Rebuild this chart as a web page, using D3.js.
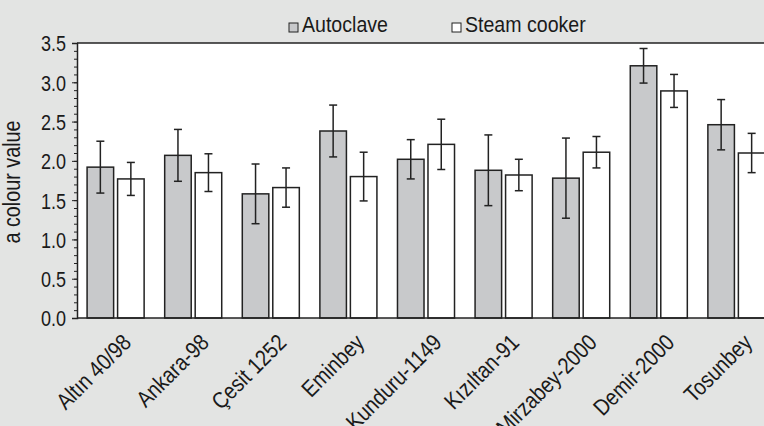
<!DOCTYPE html>
<html>
<head>
<meta charset="utf-8">
<script src="https://cdn.jsdelivr.net/npm/d3@7"></script>
<style>
  body { margin: 0; background: #e3e4e3; }
  svg text { font-family: "Liberation Sans Narrow", "Arial Narrow", "Liberation Sans", Arial, sans-serif; fill: #1a1a1a; }
</style>
</head>
<body>
<div id="chart"></div>
<script>
// chart values
const categories = ["Altın 40/98", "Ankara-98", "Çesit 1252", "Eminbey", "Kunduru-1149",
                    "Kızıltan-91", "Mirzabey-2000", "Demir-2000", "Tosunbey"];
const seriesNames = ["Autoclave", "Steam cooker"];
const autoclave    = [1.92, 2.07, 1.58, 2.38, 2.02, 1.88, 1.78, 3.21, 2.46];
const autoclaveErr = [0.33, 0.33, 0.38, 0.33, 0.25, 0.45, 0.51, 0.22, 0.32];
const steam        = [1.77, 1.85, 1.66, 1.80, 2.21, 1.82, 2.11, 2.89, 2.10];
const steamErr     = [0.21, 0.24, 0.25, 0.31, 0.32, 0.20, 0.20, 0.21, 0.25];
const yTicks = [0, 0.5, 1, 1.5, 2, 2.5, 3, 3.5];

const W = 764, H = 426;
const margin = { top: 43, left: 77, bottom: 108 };
const plotRight = 775;   // the plot runs past the right edge of the picture
const height = H - margin.top - margin.bottom;
const squeeze = 0.86;    // the original type is a condensed face

const svg = d3.select("#chart").append("svg")
  .attr("width", W).attr("height", H)
  .style("display", "block");

svg.append("rect").attr("width", W).attr("height", H).attr("fill", "#e3e4e3");

const g = svg.append("g").attr("transform", `translate(0,${margin.top})`);

// white plot area
g.append("rect")
  .attr("x", margin.left).attr("y", 0)
  .attr("width", plotRight - margin.left).attr("height", height)
  .attr("fill", "#ffffff");

// scales
const x = d3.scaleBand()
  .domain(categories)
  .range([margin.left, plotRight])
  .paddingInner(0.265)
  .paddingOuter(0.13);

const xSub = d3.scaleBand()
  .domain(seriesNames)
  .range([0, x.bandwidth()])
  .paddingInner(0.13);

const y = d3.scaleLinear().domain([0, 3.5]).range([height, 0]);

const color = d3.scaleOrdinal().domain(seriesNames).range(["#c8c9cb", "#ffffff"]);

// rows for the bars
const rows = categories.map((c, i) => [
  { cat: c, key: "Autoclave", value: autoclave[i], err: autoclaveErr[i] },
  { cat: c, key: "Steam cooker", value: steam[i], err: steamErr[i] }
]);

const groups = g.append("g")
  .selectAll("g")
  .data(rows)
  .join("g")
    .attr("transform", (d, i) => `translate(${x(categories[i])},0)`);

groups.selectAll("rect")
  .data(d => d)
  .join("rect")
    .attr("x", d => xSub(d.key))
    .attr("y", d => y(d.value))
    .attr("width", xSub.bandwidth())
    .attr("height", d => height - y(d.value))
    .attr("fill", d => color(d.key))
    .attr("stroke", "#222")
    .attr("stroke-width", 1.5);

// error bars
const eb = groups.selectAll("g.err")
  .data(d => d)
  .join("g")
    .attr("class", "err")
    .attr("stroke", "#222")
    .attr("stroke-width", 1.5);
const cap = 4;
const mid = d => xSub(d.key) + xSub.bandwidth() / 2;
eb.append("line")
  .attr("x1", mid).attr("x2", mid)
  .attr("y1", d => y(d.value + d.err))
  .attr("y2", d => y(d.value - d.err));
eb.append("line")
  .attr("x1", d => mid(d) - cap).attr("x2", d => mid(d) + cap)
  .attr("y1", d => y(d.value + d.err))
  .attr("y2", d => y(d.value + d.err));
eb.append("line")
  .attr("x1", d => mid(d) - cap).attr("x2", d => mid(d) + cap)
  .attr("y1", d => y(d.value - d.err))
  .attr("y2", d => y(d.value - d.err));

// frame lines: top and bottom
g.append("line")
  .attr("x1", margin.left).attr("x2", plotRight)
  .attr("y1", 0).attr("y2", 0)
  .attr("stroke", "#222").attr("stroke-width", 1.5);
g.append("line")
  .attr("x1", margin.left).attr("x2", plotRight)
  .attr("y1", height).attr("y2", height)
  .attr("stroke", "#222").attr("stroke-width", 1.5);

// Y axis: minor ticks then major ticks with labels
g.append("g")
  .attr("transform", `translate(${margin.left},0)`)
  .call(d3.axisLeft(y).tickValues(d3.range(0, 36).map(v => v / 10)).tickSize(3).tickFormat(""))
  .call(a => a.select(".domain").remove())
  .selectAll("line").attr("stroke", "#222");

const yAxis = g.append("g")
  .attr("transform", `translate(${margin.left},0)`)
  .call(d3.axisLeft(y).tickValues(yTicks).tickSize(5).tickFormat(d3.format(".1f")));
yAxis.select(".domain").attr("stroke", "#222").attr("stroke-width", 1.5);
yAxis.selectAll("line").attr("stroke", "#222");
yAxis.selectAll("text")
  .attr("font-family", null)
  .attr("x", 0)
  .attr("dy", "0.36em")
  .attr("transform", `translate(-11,0) scale(0.82,1)`)
  .style("font-size", "22px")
  .attr("fill", "#1a1a1a");

// X labels, rotated
g.append("g")
  .selectAll("text")
  .data(categories)
  .join("text")
    .attr("transform", d => `translate(${x(d) + x.bandwidth() / 2 + 17},${height + 26}) rotate(-45) scale(${squeeze},1)`)
    .attr("text-anchor", "end")
    .style("font-size", "23px")
    .text(d => d);

// Y title
svg.append("text")
  .attr("transform", `translate(20,182) rotate(-90) scale(${squeeze},1)`)
  .attr("text-anchor", "middle")
  .style("font-size", "23px")
  .text("a colour value");

// legend
const legendX = [289, 452];
const legend = svg.append("g")
  .selectAll("g")
  .data(seriesNames)
  .join("g")
    .attr("transform", (d, i) => `translate(${legendX[i]},23)`);
legend.append("rect")
  .attr("width", 9).attr("height", 9)
  .attr("fill", d => color(d))
  .attr("stroke", "#222").attr("stroke-width", 1);
legend.append("text")
  .attr("transform", `translate(13,9) scale(0.89,1)`)
  .style("font-size", "22px")
  .text(d => d);
</script>
</body>
</html>
